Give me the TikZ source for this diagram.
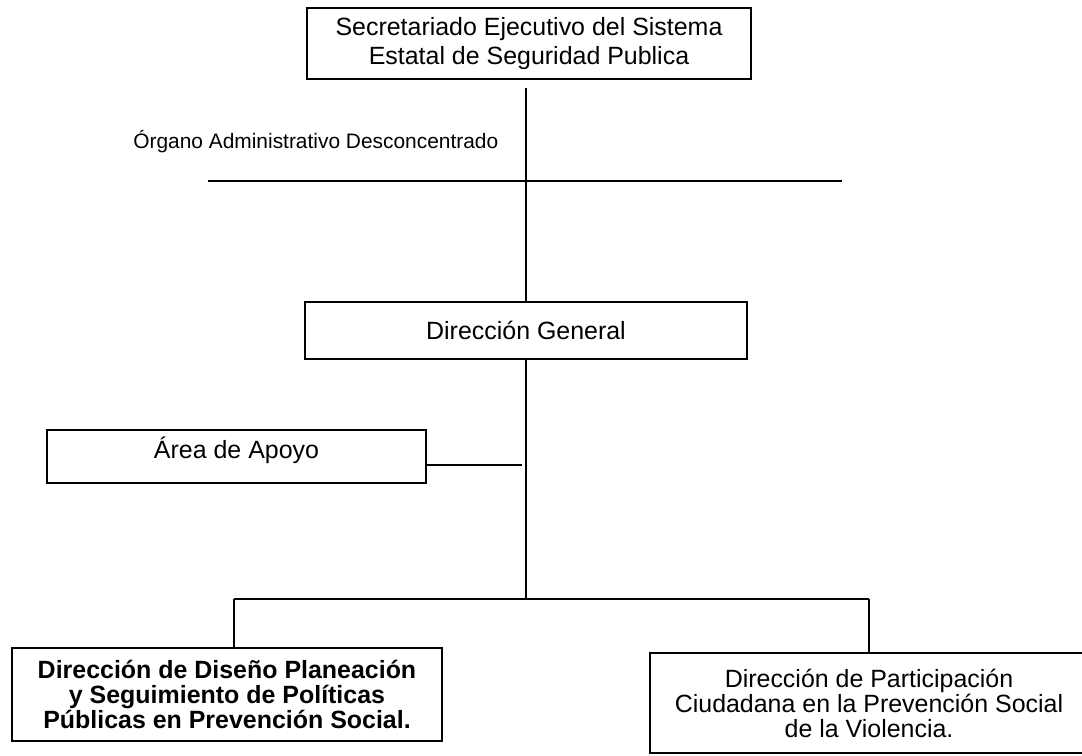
\documentclass[tikz,border=0pt]{standalone}
\usepackage{fontspec}
\setmainfont{Liberation Sans}
\usetikzlibrary{positioning}

\begin{document}
\begin{tikzpicture}
      [ x=0.02cm, y=-0.02cm,
        font=\fontsize{14.2}{14.2}\selectfont,
        unit/.style={draw, line width=1.1pt, align=center, inner sep=0pt},
        link/.style={line width=0.8pt}
      ]
      \useasboundingbox (0,0) rectangle (1082,755);
      \clip (0,0) rectangle (1082,755);

      \node[unit, minimum width=8.88cm, minimum height=1.42cm]
            (sec)    at (529,43.5)   {Secretariado Ejecutivo del Sistema\\[2.8pt] Estatal de Seguridad Publica};
      \node[anchor=west, inner sep=0pt, font=\fontsize{11.9}{11.9}\selectfont]
            (organo) at (133,142)    {Órgano Administrativo Desconcentrado};
      \node[unit, minimum width=8.84cm, minimum height=1.14cm]
            (dg)     at (526,330.5)  {Dirección General};
      \node[unit, minimum width=7.58cm, minimum height=1.06cm, text depth=0.35cm]
            (apoyo)  at (236.5,456.5) {Área de Apoyo};
      \node[unit, minimum width=8.6cm, minimum height=1.86cm, font=\fontsize{14.2}{14.2}\selectfont\bfseries]
            (dise)   at (227,694.5)  {Dirección de Diseño Planeación\\ y Seguimiento de Políticas\\ Públicas en Prevención Social.};
      \node[unit, minimum width=8.76cm, minimum height=2.0cm]
            (part)   at (869,703)    {Dirección de Participación\\ Ciudadana en la Prevención Social\\ de la Violencia.};

      \coordinate (hl)    at (208,181);
      \coordinate (hr)    at (842,181);
      \coordinate (ajoin) at (522,465);
      \coordinate (fork)  at (526,599);
      \coordinate (fl)    at (234,599);
      \coordinate (fr)    at (869,599);

      \draw[link] (hl) -- (hr);
      \draw[link, shorten <=0.16cm] (dg.north |- sec.south) -- (dg.north);
      \draw[link] (dg.south) -- (fork);
      \draw[link] (apoyo.east |- ajoin) -- (ajoin);
      \draw[link] (fl) -- (fr);
      \draw[link] (fl) -- (fl |- dise.north);
      \draw[link] (fr) -- (fr |- part.north);
\end{tikzpicture}
\end{document}
